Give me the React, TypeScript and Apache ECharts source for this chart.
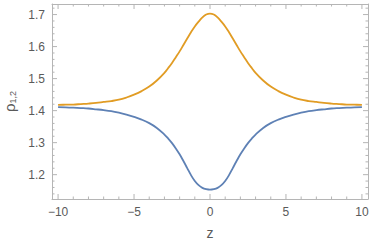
import React, { useEffect, useRef } from "react";
import * as echarts from "echarts";

const Z = [-10, -9.5, -9, -8.5, -8, -7.5, -7, -6.5, -6, -5.5, -5, -4.5, -4, -3.5, -3, -2.75, -2.5, -2.25, -2, -1.75, -1.5, -1.25, -1, -0.75, -0.5, -0.25, 0, 0.25, 0.5, 0.75, 1, 1.25, 1.5, 1.75, 2, 2.25, 2.5, 2.75, 3, 3.5, 4, 4.5, 5, 5.5, 6, 6.5, 7, 7.5, 8, 8.5, 9, 9.5, 10];
const RHO_ORANGE = [1.418, 1.4185, 1.419, 1.4205, 1.422, 1.424, 1.427, 1.43, 1.434, 1.441, 1.45, 1.461, 1.475, 1.494, 1.518, 1.533, 1.549, 1.567, 1.585, 1.605, 1.625, 1.645, 1.663, 1.678, 1.691, 1.7, 1.703, 1.7, 1.691, 1.678, 1.663, 1.645, 1.625, 1.605, 1.585, 1.567, 1.549, 1.533, 1.518, 1.494, 1.475, 1.461, 1.45, 1.441, 1.434, 1.43, 1.427, 1.424, 1.422, 1.4205, 1.419, 1.4185, 1.418];
const RHO_BLUE = [1.411, 1.4104, 1.4094, 1.4081, 1.4066, 1.4042, 1.4016, 1.3983, 1.3934, 1.3874, 1.3804, 1.3719, 1.361, 1.346, 1.3252, 1.3128, 1.2985, 1.282, 1.2635, 1.2425, 1.2205, 1.1985, 1.1802, 1.1672, 1.1587, 1.1546, 1.153, 1.1546, 1.1587, 1.1672, 1.1802, 1.1985, 1.2205, 1.2425, 1.2635, 1.282, 1.2985, 1.3128, 1.3252, 1.346, 1.361, 1.3719, 1.3804, 1.3874, 1.3934, 1.3983, 1.4016, 1.4042, 1.4066, 1.4081, 1.4094, 1.4104, 1.411];

const X_MAJOR = [-10, -5, 0, 5, 10];
const X_MINOR = [-10, -9, -8, -7, -6, -5, -4, -3, -2, -1, 0, 1, 2, 3, 4, 5, 6, 7, 8, 9, 10];
const Y_MAJOR = [1.2, 1.3, 1.4, 1.5, 1.6, 1.7];
const Y_MINOR = [1.14, 1.16, 1.18, 1.2, 1.22, 1.24, 1.26, 1.28, 1.3, 1.32, 1.34, 1.36, 1.38, 1.4, 1.42, 1.44, 1.46, 1.48, 1.5, 1.52, 1.54, 1.56, 1.58, 1.6, 1.62, 1.64, 1.66, 1.68, 1.7, 1.72];

const X_MIN = -10.4;
const X_MAX = 10.4;
const Y_MIN = 1.124;
const Y_MAX = 1.733;

const FRAME = "#b5b5b5";
const LABEL = "#5a5a5a";
const FONT = "'Liberation Sans', Arial, sans-serif";
const MAJOR_LEN = 5;
const MINOR_LEN = 2.5;

const isMajor = (v: number, majors: number[]) => majors.some((m) => Math.abs(m - v) < 1e-9);

export default function App() {
  const ref = useRef<HTMLDivElement>(null);
  useEffect(() => {
    document.body.style.margin = "0";
    const chart = echarts.init(ref.current!, null, { renderer: "svg" });
    const plainAxis = (type: "x" | "y", position: string) => ({
      type: "value",
      min: type === "x" ? X_MIN : Y_MIN,
      max: type === "x" ? X_MAX : Y_MAX,
      position,
      axisLine: { show: true, onZero: false, lineStyle: { color: FRAME, width: 1 } },
      splitLine: { show: false },
      axisTick: { show: false },
      axisLabel: { show: false },
    });
    const xMain: any = plainAxis("x", "bottom");
    xMain.axisLabel = {
      show: true,
      customValues: X_MAJOR,
      margin: 7,
      color: LABEL,
      fontSize: 12,
      fontFamily: FONT,
      formatter: (v: number) => (v < 0 ? "\u2212" + Math.abs(v) : String(v)),
    };
    xMain.name = "z";
    xMain.nameLocation = "middle";
    xMain.nameGap = 27;
    xMain.nameTextStyle = { color: LABEL, fontSize: 14, fontFamily: FONT };
    const yMain: any = plainAxis("y", "left");
    yMain.axisLabel = {
      show: true,
      customValues: Y_MAJOR,
      margin: 7,
      color: LABEL,
      fontSize: 12,
      fontFamily: FONT,
      formatter: (v: number) => v.toFixed(1),
    };
    yMain.name = "{r|ρ}{s|1,2}";
    yMain.nameLocation = "middle";
    yMain.nameRotate = 90;
    yMain.nameGap = 33;
    yMain.nameTextStyle = {
      color: LABEL,
      fontFamily: FONT,
      rich: {
        r: { fontSize: 15, color: LABEL, fontFamily: FONT, verticalAlign: "bottom", lineHeight: 17 },
        s: { fontSize: 9, color: LABEL, fontFamily: FONT, verticalAlign: "bottom", lineHeight: 17 },
      },
    };

    const tickSeries = (data: number[][], dir: [number, number], majors: number[], valIdx: number) => ({
      type: "custom",
      xAxisIndex: 0,
      yAxisIndex: 0,
      silent: true,
      clip: false,
      z: 1,
      data,
      renderItem: (params: any, api: any) => {
        const p = api.coord([api.value(0), api.value(1)]);
        const v = api.value(valIdx);
        const len = isMajor(v, majors) ? MAJOR_LEN : MINOR_LEN;
        return {
          type: "line",
          shape: { x1: p[0], y1: p[1], x2: p[0] + dir[0] * len, y2: p[1] + dir[1] * len },
          style: { stroke: FRAME, lineWidth: 1 },
        };
      },
    });

    chart.setOption({
      animation: false,
      grid: { left: 52, right: 6, top: 4, bottom: 47, containLabel: false, outerBoundsMode: "none" },
      xAxis: [xMain, plainAxis("x", "top")],
      yAxis: [yMain, plainAxis("y", "right")],
      series: [
        tickSeries(X_MINOR.map((v) => [v, Y_MIN]), [0, -1], X_MAJOR, 0),
        tickSeries(X_MINOR.map((v) => [v, Y_MAX]), [0, 1], X_MAJOR, 0),
        tickSeries(Y_MINOR.map((v) => [X_MIN, v]), [1, 0], Y_MAJOR, 1),
        tickSeries(Y_MINOR.map((v) => [X_MAX, v]), [-1, 0], Y_MAJOR, 1),
        {
          type: "line",
          xAxisIndex: 0,
          yAxisIndex: 0,
          data: Z.map((z, i) => [z, RHO_BLUE[i]]),
          smooth: 0.4,
          showSymbol: false,
          z: 3,
          lineStyle: { color: "#5E81B5", width: 1.8 },
        },
        {
          type: "line",
          xAxisIndex: 0,
          yAxisIndex: 0,
          data: Z.map((z, i) => [z, RHO_ORANGE[i]]),
          smooth: 0.4,
          showSymbol: false,
          z: 3,
          lineStyle: { color: "#E19C24", width: 1.8 },
        },
      ],
    });
    return () => chart.dispose();
  }, []);
  return <div ref={ref} style={{ width: 374, height: 246 }} />;
}
